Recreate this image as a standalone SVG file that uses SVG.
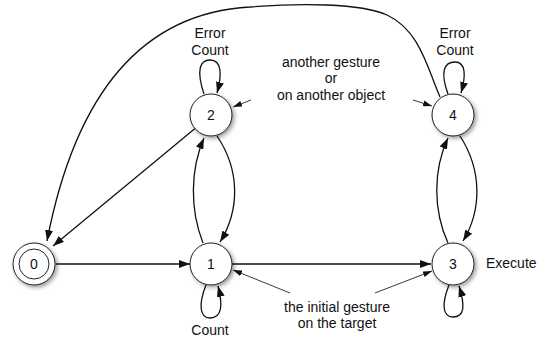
<svg xmlns="http://www.w3.org/2000/svg" width="539" height="338" viewBox="0 0 539 338">
<style>
.node circle{fill:#fff;stroke:#222;stroke-width:1}
.lbl{font-family:"Liberation Sans",Arial,sans-serif;font-size:14px;fill:#111;text-anchor:middle}
.edge{fill:none;stroke:#111;stroke-width:1.3}
.ptr{fill:none;stroke:#222;stroke-width:0.9}
</style>
<defs>
<marker id="arr" markerUnits="userSpaceOnUse" markerWidth="11" markerHeight="8" refX="11" refY="4" orient="auto">
<path d="M0,0 L11,4 L0,8 z" fill="#111"/>
</marker>
<marker id="arrs" markerUnits="userSpaceOnUse" markerWidth="9" markerHeight="6" refX="9" refY="3" orient="auto">
<path d="M0,0 L9,3 L0,6 z" fill="#111"/>
</marker>
<filter id="sh" x="-30%" y="-30%" width="170%" height="170%">
<feDropShadow dx="2" dy="2" stdDeviation="2" flood-color="#000" flood-opacity="0.4"/>
</filter>
</defs>
<rect width="539" height="338" fill="#fff"/>
<g id="connectors">
<path class="edge" d="M56,264 L190,264" marker-end="url(#arr)"/>
<path class="edge" d="M232,264 L431,264" marker-end="url(#arr)"/>
<path class="edge" d="M195,128.5 L53,246" marker-end="url(#arr)"/>
<path class="edge" d="M440,97 C428,70 420,30 387,15 C360,3 300,3 250,7 C160,12 80,70 47,241" marker-end="url(#arr)"/>
<path class="edge" d="M203,243 C190,210 190,170 204,138" marker-end="url(#arr)"/>
<path class="edge" d="M217,136 C240,170 240,210 220,242" marker-end="url(#arr)"/>
<path class="edge" d="M448,243 C433,210 433,170 448,138" marker-end="url(#arr)"/>
<path class="edge" d="M460,136 C482,170 482,210 463,241" marker-end="url(#arr)"/>
<path class="edge" d="M204,94 C196,70 200,60 210,60 C222,60 222,75 217,93" marker-end="url(#arr)"/>
<path class="edge" d="M448,94 C440,72 444,62 455,62 C466,62 466,76 461,93" marker-end="url(#arr)"/>
<path class="edge" d="M206,285 C198,305 200,318 210,318 C222,318 223,305 218,286" marker-end="url(#arr)"/>
<path class="edge" d="M449,285 C441,305 443,317 453,317 C465,317 465,305 459,286" marker-end="url(#arr)"/>
<path class="ptr" d="M251,100 L233,107" marker-end="url(#arrs)"/>
<path class="ptr" d="M413,100 L432,106" marker-end="url(#arrs)"/>
<path class="ptr" d="M290,293 L233,270" marker-end="url(#arrs)"/>
<path class="ptr" d="M375,293 L432,271" marker-end="url(#arrs)"/>
</g>
<g id="node0" class="node">
<circle cx="34" cy="264" r="21" filter="url(#sh)"/>
<circle cx="34" cy="264" r="15"/>
<text class="lbl" x="34" y="269">0</text>
</g>
<g id="node1" class="node">
<circle cx="211" cy="264" r="21" filter="url(#sh)"/>
<text class="lbl" x="211" y="269">1</text>
</g>
<g id="node2" class="node">
<circle cx="211" cy="115" r="21" filter="url(#sh)"/>
<text class="lbl" x="211" y="120">2</text>
</g>
<g id="node3" class="node">
<circle cx="453" cy="264" r="21" filter="url(#sh)"/>
<text class="lbl" x="453" y="269">3</text>
</g>
<g id="node4" class="node">
<circle cx="453" cy="115" r="21" filter="url(#sh)"/>
<text class="lbl" x="453" y="120">4</text>
</g>
<g id="labels">
<text class="lbl" x="210" y="38">Error</text>
<text class="lbl" x="210" y="55">Count</text>
<text class="lbl" x="455" y="38">Error</text>
<text class="lbl" x="455" y="55">Count</text>
<text class="lbl" x="331" y="67">another gesture</text>
<text class="lbl" x="331" y="83">or</text>
<text class="lbl" x="331" y="100">on another object</text>
<text class="lbl" x="337" y="312">the initial gesture</text>
<text class="lbl" x="337" y="328">on the target</text>
<text class="lbl" x="210" y="335">Count</text>
<text class="lbl" x="486" y="268" style="text-anchor:start">Execute</text>
</g>
</svg>
